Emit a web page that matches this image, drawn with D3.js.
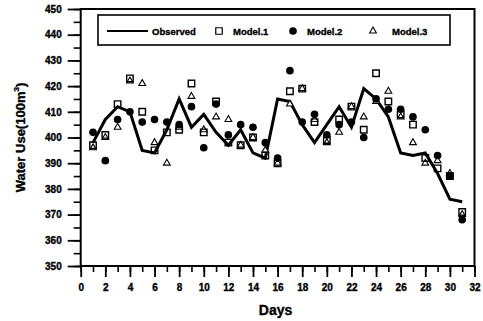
<!DOCTYPE html>
<html><head><meta charset="utf-8">
<script src="https://cdn.jsdelivr.net/npm/d3@7"></script>
<style>body{margin:0;background:#fff}svg{display:block}text{font-family:"Liberation Sans",Arial,sans-serif;font-weight:bold;fill:#000;stroke:#000;stroke-width:0.35px}</style>
</head><body><svg id="c" width="483" height="321"></svg>
<script>
const days = d3.range(1, 32);
const observed = [398,407,412,410,395,394,403,415,404,409,402,397,403,394,392,415,414,405,398,405,412,404,419,415,408,394,393,394,386,376,375];
const model1   = [397,401,413,423,410,395,402,403,421,402,414,398,397,400,393,390,418,419,406,399,407,412,403,425,414,409,405,392,388,385,371];
const model2   = [402,391,407,410,406,407,406,405,412,396,413,401,405,404,398,392,426,406,409,401,405,406,400,415,411,411,408,403,393,385,368];
const model3   = [396,400,404,422,421,398,390,404,416,403,408,407,397,400,395,390,413,419,407,398,402,412,408,414,418,408,398,390,391,386,370];
const xTicks = d3.range(0, 33, 2);
const yTicks = d3.range(350, 451, 10);
const legendLabels = ["Observed", "Model.1", "Model.2", "Model.3"];

const svg = d3.select("#c");
const L = 80.7, R = 474.5, T = 9, B = 266;
const x = d3.scaleLinear().domain([0, 32]).range([L, R]);
const y = d3.scaleLinear().domain([350, 450]).range([B, T]);

// frame
svg.append("rect").attr("x", L).attr("y", T).attr("width", R - L).attr("height", B - T)
  .attr("fill", "none").attr("stroke", "#000").attr("stroke-width", 2);

// x axis
const gx = svg.append("g").attr("transform", `translate(0,${B})`);
gx.call(d3.axisBottom(x).tickValues(d3.range(0, 33, 1)).tickSize(6).tickFormat(""))
  .call(g => g.select(".domain").remove())
  .call(g => g.selectAll("line").attr("stroke-width", 1.6));
gx.append("g").call(d3.axisBottom(x).tickValues(xTicks).tickSize(11).tickPadding(7))
  .call(g => g.select(".domain").remove())
  .call(g => g.selectAll("line").attr("stroke-width", 1.8))
  .call(g => g.selectAll("text").attr("font-size", 10).attr("font-family", "Liberation Sans").attr("font-weight", "bold").attr("fill", "#000"));

// y axis
const gy = svg.append("g").attr("transform", `translate(${L},0)`);
gy.call(d3.axisLeft(y).tickValues(d3.range(350, 451, 5)).tickSize(7).tickFormat(""))
  .call(g => g.select(".domain").remove())
  .call(g => g.selectAll("line").attr("stroke-width", 1.6));
gy.append("g").call(d3.axisLeft(y).tickValues(yTicks).tickSize(13).tickPadding(6))
  .call(g => g.select(".domain").remove())
  .call(g => g.selectAll("line").attr("stroke-width", 1.8))
  .call(g => g.selectAll("text").attr("font-size", 10).attr("font-family", "Liberation Sans").attr("font-weight", "bold").attr("fill", "#000"));

// axis titles
svg.append("text").attr("x", (L + R) / 2 - 2).attr("y", 315).attr("text-anchor", "middle")
  .attr("font-size", 14).text("Days");
const yt = svg.append("text").attr("transform", `translate(25,${(T + B) / 2}) rotate(-90)`)
  .attr("text-anchor", "middle").attr("font-size", 13);
yt.append("tspan").text("Water Use(100m");
yt.append("tspan").attr("font-size", 8).attr("dy", -6).text("3");
yt.append("tspan").attr("dy", 6).text(")");

// observed line
svg.append("path").datum(days)
  .attr("d", d3.line().x(d => x(d)).y((d, i) => y(observed[i])))
  .attr("fill", "none").attr("stroke", "#000").attr("stroke-width", 3).attr("stroke-linejoin", "miter");

const sq = d3.symbol().type(d3.symbolSquare).size(42);
const ci = d3.symbol().type(d3.symbolCircle).size(46);
const tr = d3.symbol().type(d3.symbolTriangle).size(20);

// Model 3 triangles
svg.append("g").selectAll("path").data(days).join("path")
  .attr("transform", (d, i) => `translate(${x(d)},${y(model3[i])})`)
  .attr("d", tr).attr("fill", "#fff").attr("stroke", "#000").attr("stroke-width", 1.1);
// Model 1 squares
svg.append("g").selectAll("path").data(days).join("path")
  .attr("transform", (d, i) => `translate(${x(d)},${y(model1[i])})`)
  .attr("d", sq).attr("fill", "none").attr("stroke", "#000").attr("stroke-width", 1.4);
// Model 2 circles
svg.append("g").selectAll("path").data(days).join("path")
  .attr("transform", (d, i) => `translate(${x(d)},${y(model2[i])})`)
  .attr("d", ci).attr("fill", "#000");

// legend
const lg = svg.append("g");
lg.append("rect").attr("x", 98).attr("y", 15).attr("width", 352).attr("height", 30)
  .attr("fill", "#fff").attr("stroke", "#000").attr("stroke-width", 1.6);
lg.append("line").attr("x1", 107).attr("x2", 148).attr("y1", 31).attr("y2", 31)
  .attr("stroke", "#000").attr("stroke-width", 2);
lg.append("path").attr("transform", "translate(219,31)").attr("d", sq).attr("fill", "none").attr("stroke", "#000").attr("stroke-width", 1.2);
lg.append("path").attr("transform", "translate(293,31)").attr("d", ci).attr("fill", "#000");
lg.append("path").attr("transform", "translate(373,31)").attr("d", tr).attr("fill", "none").attr("stroke", "#000").attr("stroke-width", 1.1);
const lx = [152, 233, 307, 392];
lg.selectAll("text.l").data(legendLabels).join("text").attr("class", "l")
  .attr("x", (d, i) => lx[i]).attr("y", 34.5).attr("font-size", 9.5).text(d => d);
</script></body></html>
